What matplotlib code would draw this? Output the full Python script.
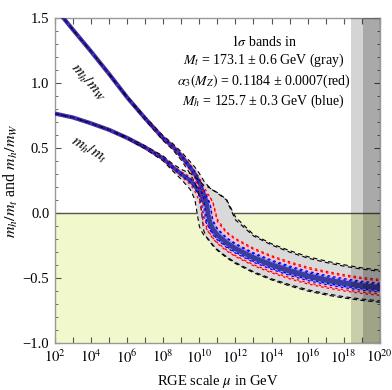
import numpy as np
import matplotlib
matplotlib.use('Agg')
import matplotlib.pyplot as plt

plt.rcParams['font.family'] = ['Liberation Serif', 'DejaVu Serif']
plt.rcParams['mathtext.fontset'] = 'stix'

# ---- data (x = log10 of mu / GeV) ----
log_mu = [2, 3, 4, 5, 6, 7, 8, 8.5, 9, 9.5, 9.75, 10, 10.1, 10.25, 10.4, 10.5, 10.6,
          10.75, 11, 11.5, 12, 13, 14, 15, 16, 17, 18, 19, 20]

# central curves
mh_mw = [1.58, 1.41, 1.243, 1.07, 0.89, 0.728, 0.575, 0.515, 0.44, 0.35, 0.30, 0.235,
         0.20, 0.145, 0.086, -0.02, -0.08, -0.127, -0.172, -0.232, -0.277, -0.348, -0.403,
         -0.45, -0.49, -0.52, -0.545, -0.565, -0.58]
mh_mt = [0.765, 0.735, 0.69, 0.64, 0.578, 0.505, 0.42, 0.355, 0.30, 0.25, 0.21, 0.16,
         0.135, 0.09, 0.055, -0.02, -0.075, -0.12, -0.165, -0.225, -0.27, -0.34, -0.395,
         -0.44, -0.48, -0.51, -0.535, -0.555, -0.57]

# half width of the gray (M_t) band, in units of sign(y)*y^2
gray_w = [0.001, 0.002, 0.004, 0.007, 0.011, 0.016, 0.021, 0.024, 0.028, 0.033, 0.035,
          0.038, 0.039, 0.040, 0.042, 0.043, 0.044, 0.047, 0.053, 0.064, 0.074, 0.090,
          0.102, 0.112, 0.12, 0.126, 0.13, 0.133, 0.135]
gray_t = [0.0005, 0.001, 0.002, 0.004, 0.007, 0.011, 0.016, 0.019, 0.023, 0.03, 0.033,
          0.036, 0.0365, 0.037, 0.038, 0.04, 0.042, 0.046, 0.052, 0.062, 0.072, 0.088,
          0.10, 0.11, 0.118, 0.124, 0.128, 0.13, 0.132]
red_frac = 0.48    # alpha_3 band relative to gray band
blue_frac = 0.25   # M_h band relative to gray band

x_span_light = 18.38   # reduced Planck mass
x_span_dark = 19.09    # Planck mass

x = np.array(log_mu)


def edges(y, d):
    s = np.sign(y) * np.array(y) ** 2
    lo, hi = s - d, s + d
    return np.sign(lo) * np.sqrt(np.abs(lo)), np.sign(hi) * np.sqrt(np.abs(hi))


fig = plt.figure(figsize=(3.92, 3.90), dpi=100)
ax = fig.add_axes([0.140, 0.1205, 0.829, 0.8333])

ax.axhspan(-1.0, 0.0, color='#f1f8cc', zorder=0)
ax.axhline(0.0, color='#555555', lw=1.0, zorder=1)

curves = [(np.array(mh_mw), np.array(gray_w)), (np.array(mh_mt), np.array(gray_t))]

for y, g in curves:
    lo, hi = edges(y, g)
    ax.fill_between(x, lo, hi, color='#d9d9d9', lw=0, zorder=2)
for y, g in curves:
    lo, hi = edges(y, g * red_frac)
    ax.fill_between(x, lo, hi, color='#f4c4c8', lw=0, zorder=3)
for y, g in curves:
    lo, hi = edges(y, g * blue_frac)
    ax.fill_between(x, lo, hi, color='#a8a8ee', lw=0, zorder=4)
for y, g in curves:
    ax.plot(x, y, color='#3c3c9a', lw=3.0, zorder=5, solid_capstyle='butt')
for y, g in curves:
    for lo_hi in edges(y, g):
        ax.plot(x, lo_hi, color='black', lw=0.8, ls=(0, (4, 3)), zorder=6)
    for lo_hi in edges(y, g * red_frac):
        ax.plot(x, lo_hi, color='red', lw=0.9, ls=(0, (2, 2.5)), zorder=6)
    for lo_hi in edges(y, g * blue_frac):
        ax.plot(x, lo_hi, color='blue', lw=0.9, ls=(0, (2, 2.5)), zorder=6)

ax.axvspan(x_span_light, 20, color='black', alpha=0.17, lw=0, zorder=7)
ax.axvspan(x_span_dark, 20, color='black', alpha=0.2, lw=0, zorder=7)

ax.text(13.57, 1.085, "$1\\sigma$ bands in\n"
        "$M_t$ = 173.1 ± 0.6 GeV (gray)\n"
        "$\\alpha_3(M_Z)$ = 0.1184 ± 0.0007(red)\n"
        "$M_h$ = 125.7 ± 0.3 GeV (blue)",
        ha='center', va='center', fontsize=10, linespacing=1.25, zorder=8)
ax.text(3.83, 1.0, "$m_h/m_W$", rotation=-48, ha='center', va='center', fontsize=11.5)
ax.text(3.9, 0.485, "$m_h/m_t$", rotation=-30, ha='center', va='center', fontsize=11.5)

ax.set_xlim(2, 20)
ax.set_ylim(-1.0, 1.5)
ax.set_xticks(range(2, 21))
ax.set_xticklabels([f"$10^{{{n}}}$" if n % 2 == 0 else "" for n in range(2, 21)])
ax.set_yticks([-1.0, -0.5, 0.0, 0.5, 1.0, 1.5])
ax.set_yticklabels(["\u22121.0", "\u22120.5", "0.0", "0.5", "1.0", "1.5"])
ax.set_yticks(np.arange(-1.0, 1.51, 0.1), minor=True)
ax.tick_params(which='both', direction='in', top=True, right=True,
               color='#555555', labelsize=10.5, pad=4)
ax.tick_params(which='major', length=4)
ax.tick_params(which='minor', length=2.2)
for sp in ax.spines.values():
    sp.set_color('#999999')
    sp.set_linewidth(1.0)

ax.set_xlabel("RGE scale $\\mu$ in GeV", fontsize=10.5, labelpad=5)
ax.set_ylabel("$m_h/m_t$ and $m_h/m_W$", fontsize=11.5, labelpad=2)

fig.savefig('out.png', dpi=100)
